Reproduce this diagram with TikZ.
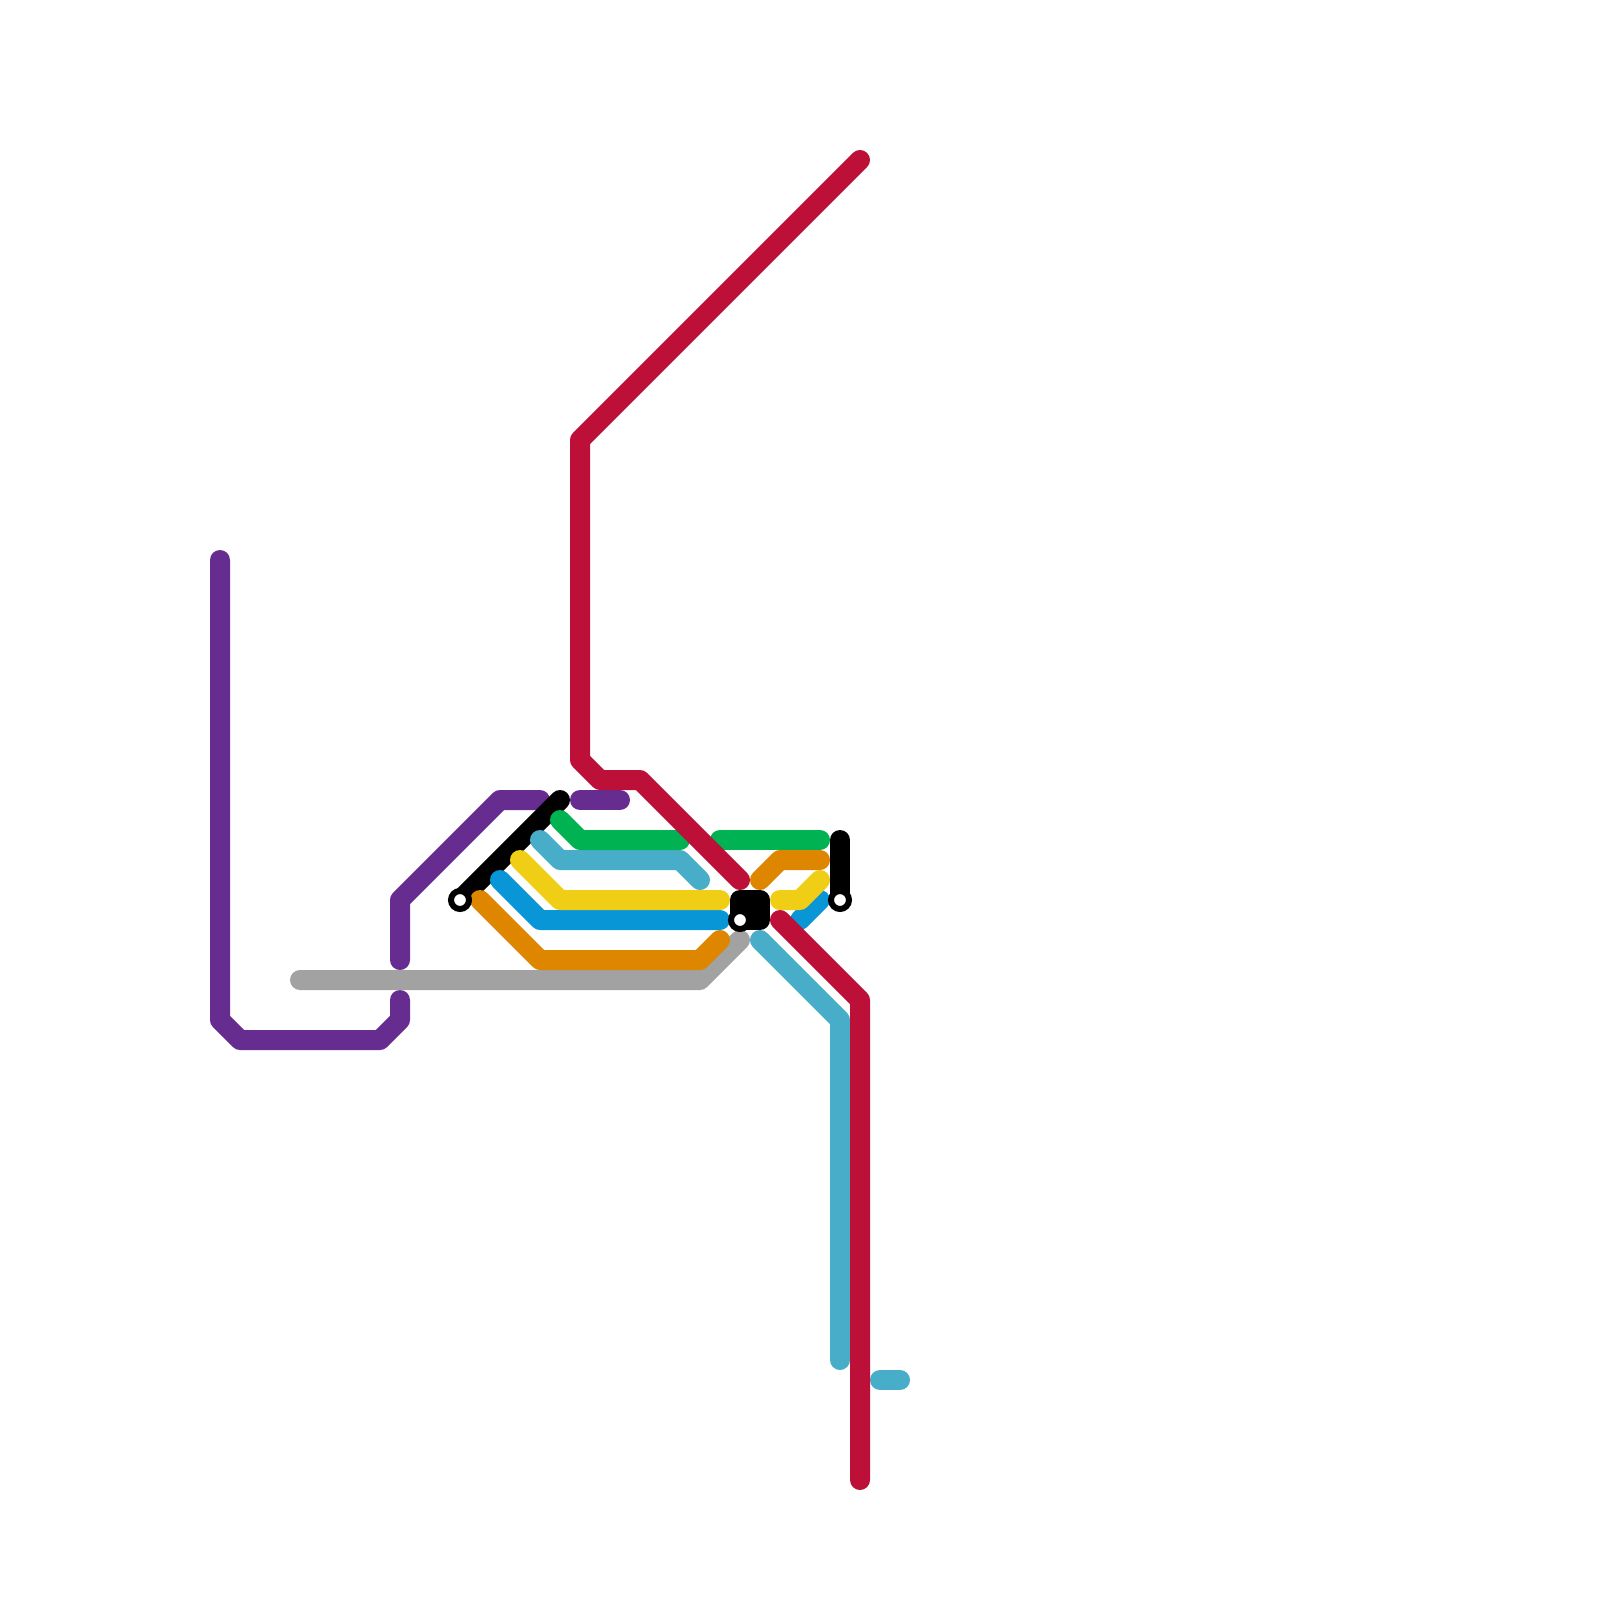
\documentclass[tikz,border=0pt]{standalone}
\definecolor{lineviolet}{HTML}{662C90}
\definecolor{linered}{HTML}{BD1038}
\definecolor{linegreen}{HTML}{00B251}
\definecolor{lineteal}{HTML}{48ADC9}
\definecolor{lineyellow}{HTML}{F0CE15}
\definecolor{lineblue}{HTML}{0896D7}
\definecolor{lineorange}{HTML}{DF8600}
\definecolor{linegray}{HTML}{A1A2A1}
\tikzset{
  metro/.style={line width=0.25cm, line cap=round, line join=round},
  ringstop/.style={circle, draw=black, fill=white, line width=0.075cm, minimum size=0.225cm, inner sep=0pt, outer sep=0pt}
}
\begin{document}
\begin{tikzpicture}[x=0.25cm, y=-0.25cm]
    \useasboundingbox (0,0) rectangle (80,80);
    \draw[metro, lineviolet] (11,28) -- (11,51) -- (12,52) -- (19,52) -- (20,51) -- (20,50);
    \draw[metro, lineviolet] (20,48) -- (20,45) -- (25,40) -- (27,40);
    \draw[metro, lineviolet] (29,40) -- (31,40);
    \draw[metro, black] (23,45) -- (28,40);
    \draw[metro, linegray] (15,49) -- (35,49) -- (37,47);
    \draw[metro, lineorange] (24,45) -- (27,48) -- (35,48) -- (36,47);
    \draw[metro, lineorange] (38,44) -- (39,43) -- (41,43);
    \draw[metro, lineblue] (25,44) -- (27,46) -- (36,46);
    \draw[metro, lineblue] (40,46) -- (41,45);
    \draw[metro, lineyellow] (26,43) -- (28,45) -- (36,45);
    \draw[metro, lineyellow] (39,45) -- (40,45) -- (41,44);
    \draw[metro, lineteal] (27,42) -- (28,43) -- (34,43) -- (35,44);
    \draw[metro, lineteal] (38,47) -- (42,51) -- (42,68);
    \draw[metro, lineteal] (44,69) -- (45,69);
    \draw[metro, linegreen] (28,41) -- (29,42) -- (34,42);
    \draw[metro, linegreen] (36,42) -- (41,42);
    \draw[metro, linered] (43,8) -- (29,22) -- (29,38) -- (30,39) -- (32,39) -- (37,44);
    \draw[metro, linered] (39,46) -- (43,50) -- (43,74);
    \draw[metro, black] (37,45) -- (38,45) -- (38,46) -- (37,46) -- cycle;
    \draw[metro, black] (42,42) -- (42,45);
    \node[ringstop] (ringwest) at (23,45) {};
    \node[ringstop] (ringhub) at (37,46) {};
    \node[ringstop] (ringeast) at (42,45) {};
\end{tikzpicture}
\end{document}
